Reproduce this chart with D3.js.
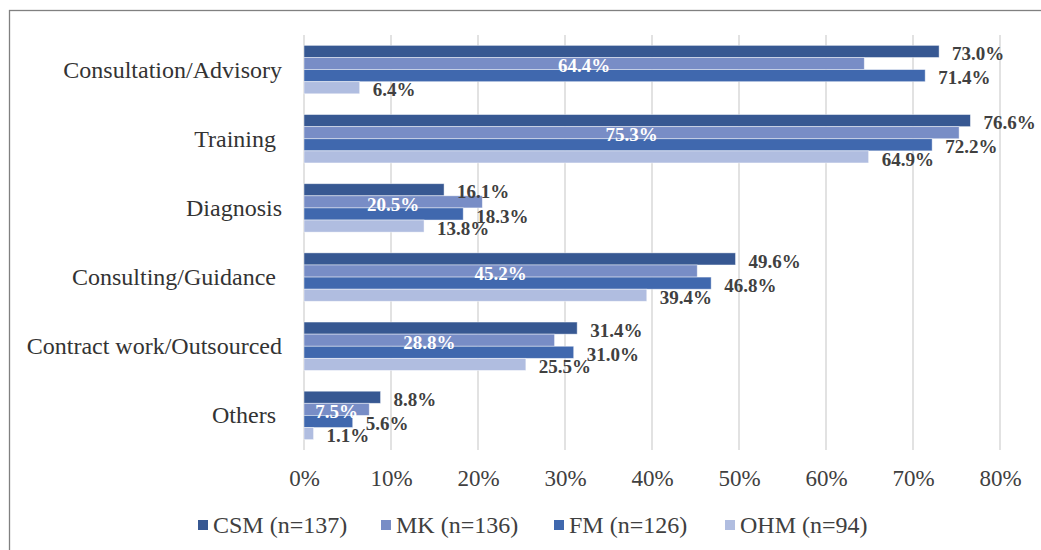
<!DOCTYPE html>
<html>
<head>
<meta charset="utf-8">
<script src="https://cdn.jsdelivr.net/npm/d3@7"></script>
<style>
  html, body { margin: 0; padding: 0; background: #fff; }
  svg { display: block; font-family: "Liberation Serif", "Times New Roman", serif; }
  .cat { white-space: pre; }
</style>
</head>
<body>
<svg id="chart" width="1041" height="550"></svg>
<script>
// Service categories (trailing spaces kept as in the source labels)
const categories = ["Consultation/Advisory", "Training ", "Diagnosis", "Consulting/Guidance ", "Contract work/Outsourced", "Others "];
const seriesNames = ["CSM (n=137)", "MK (n=136)", "FM (n=126)", "OHM (n=94)"];
const csm = [73.0, 76.6, 16.1, 49.6, 31.4, 8.8];
const mk  = [64.4, 75.3, 20.5, 45.2, 28.8, 7.5];
const fm  = [71.4, 72.2, 18.3, 46.8, 31.0, 5.6];
const ohm = [6.4, 64.9, 13.8, 39.4, 25.5, 1.1];
const tickValues = [0, 10, 20, 30, 40, 50, 60, 70, 80];

const colors = ["#375892", "#788dc6", "#4068ae", "#b0bde0"];
const seriesValues = [csm, mk, fm, ohm];

const svg = d3.select("#chart");
const textColor = "#404040";

// outer frame (open to the right and bottom)
svg.append("rect")
  .attr("x", 9.5).attr("y", 10.5)
  .attr("width", 1100).attr("height", 600)
  .attr("fill", "none").attr("stroke", "#808080").attr("stroke-width", 1.3);

const x = d3.scaleLinear().domain([0, 80]).range([304, 1000]);
const y = d3.scaleBand().domain(categories).range([35, 450]).paddingInner(0.3).paddingOuter(0.15);
const ySub = d3.scaleBand().domain(d3.range(seriesNames.length)).range([0, y.bandwidth()]);

// vertical gridlines
svg.append("g").selectAll("line").data(tickValues).join("line")
  .attr("x1", d => x(d)).attr("x2", d => x(d))
  .attr("y1", 35).attr("y2", 450)
  .attr("stroke", "#d9d9d9").attr("stroke-width", 1.5);

// x axis labels
const xAxis = d3.axisBottom(x).tickValues(tickValues).tickFormat(d => d + "%").tickSize(0).tickPadding(0);
const gx = svg.append("g").attr("transform", "translate(0,470)").call(xAxis);
gx.select(".domain").remove();
gx.selectAll("text")
  .attr("font-size", 23).attr("fill", textColor)
  .attr("font-family", "'Liberation Serif', 'Times New Roman', serif")
  .attr("dy", "0.7em");

// category labels
const yAxis = d3.axisLeft(y).tickSize(0).tickPadding(0);
const gy = svg.append("g").attr("transform", "translate(282,0)").call(yAxis);
gy.select(".domain").remove();
gy.selectAll("text")
  .attr("class", "cat")
  .attr("font-size", 24).attr("fill", "#333")
  .attr("font-family", "'Liberation Serif', 'Times New Roman', serif")
  .attr("dy", "0.33em");

// bars and value labels
const flat = [];
categories.forEach((c, i) => {
  seriesValues.forEach((vals, s) => flat.push({ cat: c, s, v: vals[i] }));
});

svg.append("g").selectAll("rect").data(flat).join("rect")
  .attr("x", x(0))
  .attr("y", d => y(d.cat) + ySub(d.s))
  .attr("width", d => x(d.v) - x(0))
  .attr("height", ySub.bandwidth())
  .attr("fill", d => colors[d.s])
  .attr("stroke", "rgba(255,255,255,0.55)")
  .attr("stroke-width", 0.8);

svg.append("g").selectAll("text").data(flat).join("text")
  .attr("x", d => d.s === 1 ? (x(0) + x(d.v)) / 2 : x(d.v) + 13)
  .attr("y", d => y(d.cat) + ySub(d.s) + ySub.bandwidth() / 2 + 2)
  .attr("dy", "0.35em")
  .attr("text-anchor", d => d.s === 1 ? "middle" : "start")
  .attr("font-size", 19).attr("font-weight", "bold")
  .attr("fill", d => d.s === 1 ? "#fff" : textColor)
  .text(d => d.v.toFixed(1) + "%");

// legend
const legendX = [198, 381, 554, 725];
const legend = svg.append("g");
seriesNames.forEach((name, i) => {
  const g = legend.append("g").attr("transform", `translate(${legendX[i]},0)`);
  g.append("rect").attr("x", 0).attr("y", 520).attr("width", 10).attr("height", 10).attr("fill", colors[i]);
  g.append("text").attr("x", 15).attr("y", 533)
    .attr("font-size", 24).attr("fill", textColor).text(name);
});
</script>
</body>
</html>
